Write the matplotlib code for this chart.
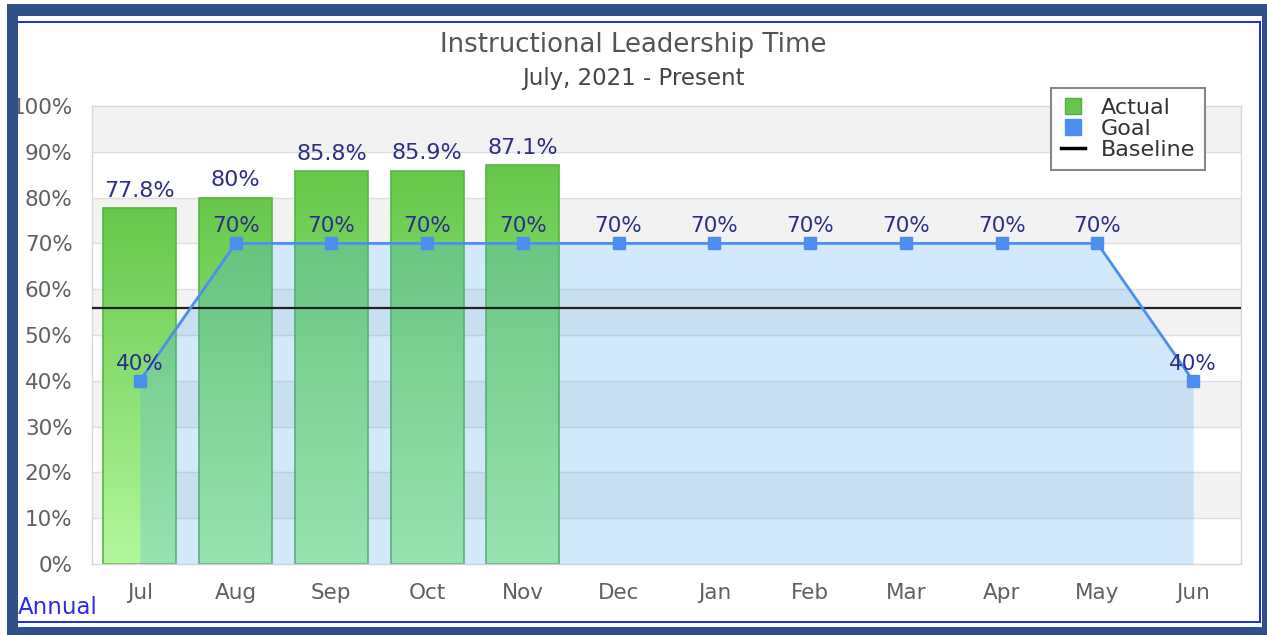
import matplotlib
matplotlib.use("Agg")
import matplotlib.pyplot as plt
import numpy as np
from matplotlib.patches import Rectangle
from matplotlib.lines import Line2D
from matplotlib.colors import LinearSegmentedColormap

months = ["Jul", "Aug", "Sep", "Oct", "Nov", "Dec", "Jan", "Feb", "Mar", "Apr", "May", "Jun"]
actual = [77.8, 80, 85.8, 85.9, 87.1]
actual_labels = ["77.8%", "80%", "85.8%", "85.9%", "87.1%"]
goal = [40, 70, 70, 70, 70, 70, 70, 70, 70, 70, 70, 40]
baseline = 56

W, H = 1267, 635
fig = plt.figure(figsize=(W / 100, H / 100), dpi=100)
fig.patch.set_facecolor("white")

def px(x0, y0, x1, y1):
    # pixel box (from top-left) -> figure fraction rect
    return (x0 / W, 1 - y1 / H), (x1 - x0) / W, (y1 - y0) / H

def frame_rect(x0, y0, x1, y1, color, z):
    xy, w, h = px(x0, y0, x1, y1)
    fig.add_artist(Rectangle(xy, w, h, transform=fig.transFigure, facecolor=color,
                             edgecolor="none", zorder=z))

# dark outer frame (on top, so it clips the "100%" like the original)
dark = "#2f5189"
frame_rect(7, 4, W, 16, dark, 10)
frame_rect(7, 627, W, H, dark, 10)
frame_rect(7, 4, 18, H, dark, 10)
frame_rect(1262, 4, W, H, dark, 10)
# thin blue inner line: top, right, bottom
blue = "#1f2fe8"
frame_rect(18, 21, 1261, 23, blue, 9)
frame_rect(18, 621, 1261, 623, blue, 9)
frame_rect(1259, 21, 1261, 623, blue, 9)

ax = fig.add_axes([92 / W, 1 - 564 / H, (1241 - 92) / W, (564 - 106) / H])
ax.set_xlim(-0.5, 11.5)
ax.set_ylim(0, 100)
ax.set_facecolor("white")

# alternating bands + grid
for lo in range(10, 100, 20):
    ax.axhspan(lo, lo + 10, color="#f2f2f2", lw=0, zorder=0)
for y in range(10, 100, 10):
    ax.axhline(y, color="#dedede", lw=1, zorder=0.5)

x = np.arange(len(months))

# gradient bars
green = LinearSegmentedColormap.from_list("g", ["#b2f79c", "#66c84b"])
grad = np.linspace(0, 1, 256).reshape(-1, 1)
bars = ax.bar(x[:len(actual)], actual, width=0.76, facecolor="none",
              edgecolor="#58b545", lw=1.2, zorder=2.5)
for b in bars:
    im = ax.imshow(grad, cmap=green, origin="lower", aspect="auto",
                   extent=(b.get_x(), b.get_x() + b.get_width(), 0, b.get_height()),
                   zorder=2)
    im.set_clip_path(b)

# goal area + line
ax.fill_between(x, goal, 0, color="#50aaf0", alpha=0.26, lw=0, zorder=3)
ax.axhline(baseline, color="#222222", lw=1.6, zorder=3.5)
ax.plot(x, goal, color="#4a8ff0", lw=2, marker="s", markersize=9,
        markerfacecolor="#4a8ff0", markeredgecolor="#4a8ff0", zorder=4)

lab = "#2e2e88"
for xi, v, t in zip(x, actual, actual_labels):
    ax.annotate(t, (xi, v), xytext=(0, 8), textcoords="offset points",
                ha="center", va="baseline", fontsize=16, color=lab, zorder=5)
for xi, v in zip(x, goal):
    ax.annotate(f"{v}%", (xi, v), xytext=(0, 8), textcoords="offset points",
                ha="center", va="baseline", fontsize=15.5, color=lab, zorder=5)

ax.set_xticks(x)
ax.set_xticklabels(months)
ax.set_yticks(range(0, 101, 10))
ax.set_yticklabels([f"{v}%" for v in range(0, 101, 10)])
ax.tick_params(length=0, labelsize=15.5, labelcolor="#606060")
ax.tick_params(axis="x", pad=14)
ax.tick_params(axis="y", pad=14)
for s in ax.spines.values():
    s.set_color("#d8d8d8")
    s.set_linewidth(1)

fig.text(0.4996, 1 - 45 / H, "Instructional Leadership Time", ha="center", va="center",
         fontsize=18.7, color="#555555")
fig.text(0.4996, 1 - 78 / H, "July, 2021 - Present", ha="center", va="center",
         fontsize=16.5, color="#444444")
fig.text(18 / W, 1 - 607 / H, "Annual", ha="left", va="center", fontsize=16.5, color="#2a2af0")

handles = [
    Line2D([], [], ls="none", marker="s", markersize=11, markerfacecolor="#66c84b", markeredgecolor="#58a845"),
    Line2D([], [], ls="none", marker="s", markersize=11, markerfacecolor="#4a8ff0", markeredgecolor="#4a8ff0"),
    Line2D([], [], color="black", lw=2.5),
]
leg = fig.legend(handles, ["Actual", "Goal", "Baseline"], loc="upper right",
                 bbox_to_anchor=(1205 / W, 1 - 88 / H), fontsize=16, frameon=True,
                 fancybox=False, framealpha=1, edgecolor="#888888", handlelength=1.1,
                 handletextpad=0.7, labelspacing=0.05, borderpad=0.45, borderaxespad=0)
leg.get_frame().set_linewidth(1.5)
for t in leg.get_texts():
    t.set_color("#333333")

fig.savefig("out.png", dpi=100)
